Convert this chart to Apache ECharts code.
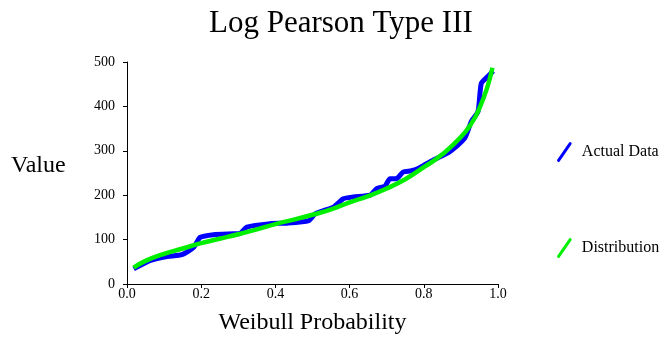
<!DOCTYPE html>
<html>
<head>
<meta charset="utf-8">
<script src="https://cdn.jsdelivr.net/npm/echarts@6/dist/echarts.min.js"></script>
<style>
html, body { margin: 0; padding: 0; background: #fff; }
#chart { width: 664px; height: 343px; }
</style>
</head>
<body>
<div id="chart"></div>
<script>
// Weibull plotting position vs observed value
var actualP = [0.018, 0.063, 0.108, 0.148, 0.18, 0.197, 0.233, 0.287, 0.305, 0.323, 0.386, 0.43, 0.49, 0.507,
    0.556, 0.583, 0.61, 0.655, 0.673, 0.695, 0.709, 0.726, 0.744, 0.767, 0.789, 0.825, 0.87, 0.91, 0.928,
    0.946, 0.955, 0.973, 0.987];
var actualV = [34, 53, 62, 66, 83, 105, 111, 113, 114, 128, 136, 137, 143, 158,
    173, 192, 196, 200, 215, 220, 237, 237, 252, 255, 262, 279, 298, 328, 366,
    388, 452, 468, 480];

// fitted Log Pearson III curve
var distP = [0.018, 0.05, 0.1, 0.15, 0.2, 0.25, 0.3, 0.35, 0.4, 0.45, 0.5, 0.55, 0.6, 0.65, 0.7, 0.75,
    0.8, 0.85, 0.9, 0.93, 0.95, 0.97, 0.985];
var distV = [37, 52, 68, 80, 92, 102, 112, 123, 135, 145, 156, 168, 184, 198, 215, 236,
    263, 292, 331, 364, 396, 440, 487];

var xTicks = ['0.0', '0.2', '0.4', '0.6', '0.8', '1.0'];

function pairs(xs, ys) {
    var out = [];
    for (var i = 0; i < xs.length; i++) {
        out.push([xs[i], ys[i]]);
    }
    return out;
}

var serif = 'Liberation Serif';
var slash = 'path://M1,17 L12,1 Q13,0 14,1 Q15,2 14,3 L3,19 Q2,20 1,19 Q0,18 1,17 Z';

var chart = echarts.init(document.getElementById('chart'));
var option = {
    animation: false,
    title: {
        text: 'Log Pearson Type III',
        left: 204,
        top: 3,
        textStyle: { fontFamily: serif, fontSize: 31, fontWeight: 'normal', color: '#000' }
    },
    legend: [
        {
            data: ['Actual Data'],
            orient: 'vertical',
            left: 552,
            top: 137,
            itemWidth: 15,
            itemHeight: 20,
            icon: slash,
            textStyle: { fontFamily: serif, fontSize: 16, color: '#000', padding: [0, 0, 0, 5] }
        },
        {
            data: ['Distribution'],
            orient: 'vertical',
            left: 552,
            top: 233,
            itemWidth: 15,
            itemHeight: 20,
            icon: slash,
            textStyle: { fontFamily: serif, fontSize: 16, color: '#000', padding: [0, 0, 0, 5] }
        }
    ],
    graphic: [
        {
            type: 'text',
            left: 11,
            top: 154,
            style: { text: 'Value', font: '24px "Liberation Serif"', fill: '#000' }
        }
    ],
    grid: { left: 127, right: 166, top: 62, bottom: 59 },
    xAxis: {
        type: 'value',
        min: 0,
        max: 1,
        interval: 0.2,
        name: 'Weibull Probability',
        nameLocation: 'middle',
        nameGap: 27,
        nameTextStyle: { fontFamily: serif, fontSize: 24, color: '#000' },
        splitLine: { show: false },
        axisLine: { lineStyle: { color: '#000', width: 1 } },
        axisTick: { show: true, length: 4, lineStyle: { color: '#000' } },
        axisLabel: {
            fontFamily: serif, fontSize: 14, color: '#000', margin: 3,
            formatter: function (v) { return xTicks[Math.round(v / 0.2)]; }
        }
    },
    yAxis: {
        type: 'value',
        min: 0,
        max: 500,
        interval: 100,
        splitLine: { show: false },
        axisLine: { show: true, lineStyle: { color: '#000', width: 1 } },
        axisTick: { show: true, length: 4, lineStyle: { color: '#000' } },
        axisLabel: { fontFamily: serif, fontSize: 14, color: '#000', margin: 12 }
    },
    series: [
        {
            name: 'Actual Data',
            type: 'line',
            data: pairs(actualP, actualV),
            showSymbol: false,
            smooth: 0.2,
            itemStyle: { color: '#0000ff' },
            lineStyle: { color: '#0000ff', width: 5 }
        },
        {
            name: 'Distribution',
            type: 'line',
            data: pairs(distP, distV),
            showSymbol: false,
            smooth: true,
            itemStyle: { color: '#00ee00' },
            lineStyle: { color: '#00ee00', width: 4.5 }
        }
    ]
};
chart.setOption(option);
</script>
</body>
</html>
